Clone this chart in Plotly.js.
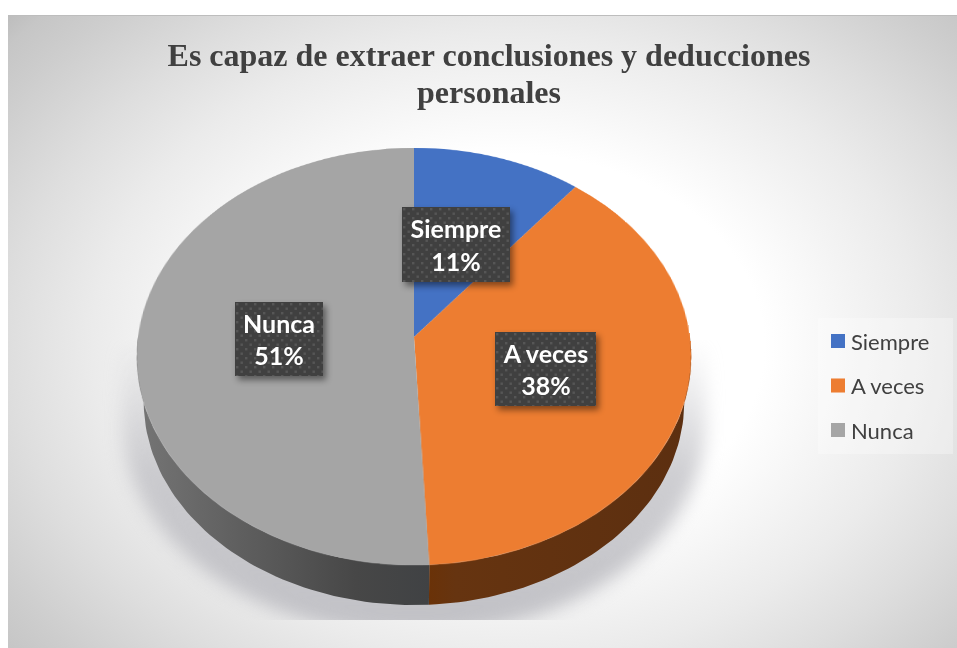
<!DOCTYPE html>
<html>
<head>
<meta charset="utf-8">
<script src="https://cdn.plot.ly/plotly-3.0.1.min.js"></script>
<style>
html,body{margin:0;padding:0;background:#fff;width:957px;height:648px;overflow:hidden}
#panel{position:absolute;left:8px;top:15px;width:949px;height:633px;border-top:1px solid #bdbdbd;box-sizing:border-box;
 background:radial-gradient(ellipse 640px 480px at 500px 330px,#ffffff 0%,#ffffff 40%,#ebebeb 65%,#dedede 78%,#cdcdcd 93%,#c6c6c6 100%,#bbbbbb 105%)}
#shadowClip{position:absolute;left:90px;top:340px;width:650px;height:280px;overflow:hidden}
#shadow{position:absolute;left:32px;top:0;width:584px;height:295px;border-radius:0 0 50% 50%/0 0 72% 72%;
 background:linear-gradient(to bottom,rgba(190,190,195,0) 0%,rgba(190,190,195,.75) 45%,rgba(190,190,195,.95) 100%);filter:blur(9px)}
#side,#main{position:absolute;left:0;top:0;width:957px;height:648px}
#main .main-svg:first-of-type{transform-origin:414px 337px;transform:perspective(1953px) rotateX(41.45deg)}
.annotation .bg{fill:url(#dots)!important;filter:drop-shadow(3px 4px 3px rgba(0,0,0,.45))}
.legend .scrollbox{clip-path:none!important}
</style>
</head>
<body>
<svg width="0" height="0" style="position:absolute"><defs>
<pattern id="dots" width="9" height="9" patternUnits="userSpaceOnUse">
<rect width="9" height="9" fill="#404040"/><rect x="1" y="1" width="2.4" height="2.4" fill="#565656"/><rect x="5.5" y="5.5" width="2.4" height="2.4" fill="#565656"/>
</pattern></defs></svg>
<div id="panel"></div>
<div id="shadowClip"><div id="shadow"></div></div>
<div id="side"></div>
<div id="main"></div>
<script>
const categories = ['Siempre', 'A veces', 'Nunca'];
const percents = [10.8, 38.4, 50.8];
const colors = ['#4472C4', '#ED7D31', '#A5A5A5'];
const titleText = 'Es capaz de extraer conclusiones y deducciones<br>personales';

const W = 957, H = 648, CX = 414, CY = 337, R = 276, K = 0.0935, RY = 206.7;
const total = percents.reduce((a, b) => a + b, 0);
const deg = p => p / total * 2 * Math.PI;

// top rim of the tilted disc, in pixels
function rim(t) { const s = 1 + K * Math.cos(t); return [CX + R * Math.sin(t) / s, CY - RY * Math.cos(t) / s]; }
// bottom rim, slightly smaller and lower
function low(t) { const p = rim(t); return [CX + 0.975 * (p[0] - CX), 401.7 + 0.975 * (p[1] - 356.5)]; }
function strip(a, b) {
  const xs = [], ys = [], n = 60;
  for (let i = 0; i <= n; i++) { const p = rim(a + (b - a) * i / n); xs.push(p[0]); ys.push(p[1]); }
  for (let i = n; i >= 0; i--) { const p = low(a + (b - a) * i / n); xs.push(p[0]); ys.push(p[1]); }
  xs.push(xs[0]); ys.push(ys[0]);
  return { xs, ys };
}
const seam = deg(percents[0] + percents[1]);
const orangeSide = strip(Math.PI / 2, seam), greySide = strip(seam, 3 * Math.PI / 2);

Plotly.newPlot('side', [
  { type: 'scatter', mode: 'lines', x: orangeSide.xs, y: orangeSide.ys, fill: 'toself', line: { width: 0 },
    fillgradient: { type: 'horizontal', colorscale: [[0, '#6a3208'], [0.1, '#663410'], [1, '#5c2f10']] }, hoverinfo: 'skip', showlegend: false },
  { type: 'scatter', mode: 'lines', x: greySide.xs, y: greySide.ys, fill: 'toself', line: { width: 0 },
    fillgradient: { type: 'horizontal', colorscale: [[0, '#757575'], [0.35, '#5f5f5f'], [0.75, '#474747'], [1, '#404244']] }, hoverinfo: 'skip', showlegend: false }
], {
  width: W, height: H, margin: { l: 0, r: 0, t: 0, b: 0 }, paper_bgcolor: 'rgba(0,0,0,0)', plot_bgcolor: 'rgba(0,0,0,0)',
  xaxis: { range: [0, W], visible: false, fixedrange: true },
  yaxis: { range: [H, 0], visible: false, fixedrange: true }, showlegend: false
}, { displayModeBar: false, staticPlot: true });

const boxes = [[456, 244.5, 108, 75], [545.5, 369, 101, 74], [279, 339, 88, 74]];
const annotations = categories.map((c, i) => ({
  xref: 'paper', yref: 'paper', x: boxes[i][0] / W, y: 1 - boxes[i][1] / H, xanchor: 'center', yanchor: 'middle',
  text: '<b>' + c + '<br>' + Math.round(percents[i]) + '%</b>', showarrow: false, width: boxes[i][2], height: boxes[i][3],
  font: { family: 'Lato, sans-serif', size: 25, color: '#ffffff' }, bgcolor: '#404040', borderpad: 0, borderwidth: 0, align: 'center'
}));

Plotly.newPlot('main', [{
  type: 'pie', labels: categories, values: percents, sort: false, direction: 'clockwise', rotation: 0,
  marker: { colors: colors, line: { width: 0 } }, textinfo: 'none', hoverinfo: 'skip',
  domain: { x: [(CX - R) / W, (CX + R) / W], y: [1 - (CY + R) / H, 1 - (CY - R) / H] }
}], {
  width: W, height: H, margin: { l: 0, r: 0, t: 0, b: 0 }, paper_bgcolor: 'rgba(0,0,0,0)',
  title: { text: '<b>' + titleText + '</b>', x: 489 / W, xanchor: 'center', xref: 'paper', y: 1 - 66 / H, yanchor: 'alphabetic',
    font: { family: '"Liberation Serif", serif', size: 32, color: '#404040' } },
  annotations: annotations,
  showlegend: true,
  legend: { x: 818 / W, y: 1 - 318 / H, xanchor: 'left', yanchor: 'top', bgcolor: 'rgba(255,255,255,0.3)', borderwidth: 0,
    font: { family: 'Lato, sans-serif', size: 22, color: '#404040' } }
}, { displayModeBar: false, staticPlot: true }).then(() => {
  document.querySelectorAll('#main .legend .traces').forEach((g, i) => {
    g.setAttribute('transform', 'translate(2,' + (23 + i * 44.5) + ')');
    const t = g.querySelector('.legendtext'); if (t) t.setAttribute('x', 31);
    const p = g.querySelector('.legendpie'); if (p) p.setAttribute('transform', 'translate(18,0) scale(1.17)');
  });
  const bg = document.querySelector('#main .legend .bg');
  if (bg) { bg.setAttribute('width', 135); bg.setAttribute('height', 136); }
  const lines = document.querySelectorAll('#main .gtitle .line');
  if (lines.length > 1) lines[1].setAttribute('dy', 37);
});
</script>
</body>
</html>
